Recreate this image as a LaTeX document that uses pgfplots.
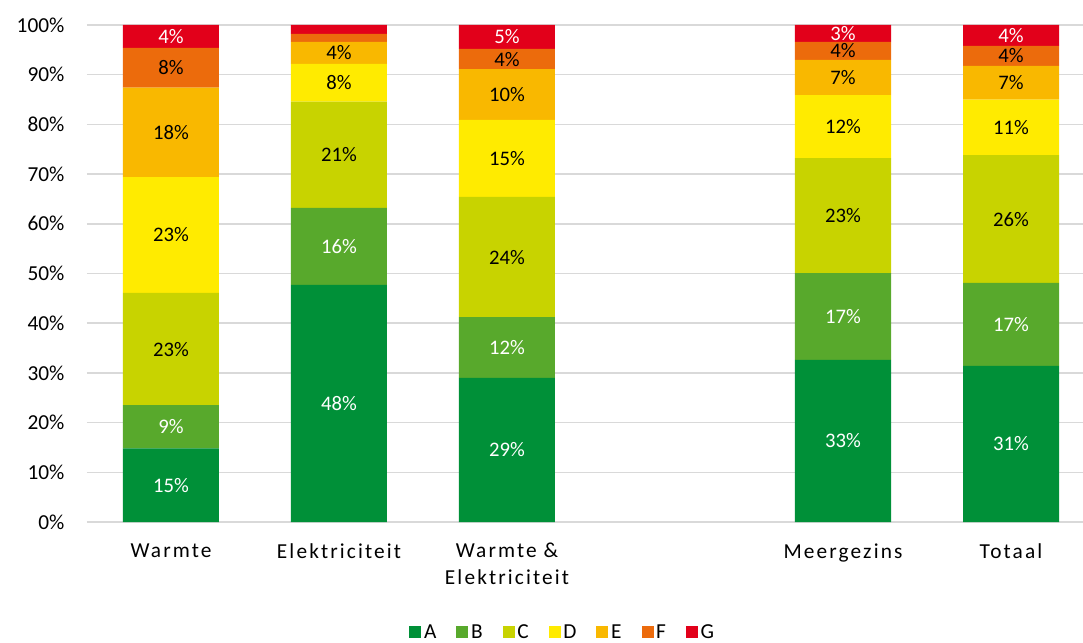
\documentclass[border=0pt]{standalone}
\usepackage{pgfplots}
\usepackage{pgfplotstable}
\pgfplotsset{compat=1.18}
\usepackage{fontspec}
\setmainfont{Carlito}
\newfontfamily\spaced[LetterSpace=10]{Carlito}

\definecolor{cA}{HTML}{009038}
\definecolor{cB}{HTML}{58A92C}
\definecolor{cC}{HTML}{C8D300}
\definecolor{cD}{HTML}{FFEB00}
\definecolor{cE}{HTML}{F9B800}
\definecolor{cF}{HTML}{EC6B0C}
\definecolor{cG}{HTML}{E2001A}
\definecolor{gridgray}{HTML}{D9D9D9}

% shares in percent, and the labels shown in the bars
\pgfplotstableread{
x A    B    C    D    E    F   G   lA   lB   lC   lD   lE   lF  lG
0 14.8 8.7  22.6 23.3 18.0 8.0 4.6 15\% 9\%  23\% 23\% 18\% 8\% 4\%
1 47.7 15.5 21.4 7.6  4.4  1.6 1.8 48\% 16\% 21\% 8\%  4\%  {}  {}
2 29.0 12.2 24.2 15.5 10.2 4.1 4.8 29\% 12\% 24\% 15\% 10\% 4\% 5\%
4 32.6 17.5 23.1 12.7 7.1  3.6 3.4 33\% 17\% 23\% 12\% 7\%  4\% 3\%
5 31.4 16.7 25.7 11.2 6.8  4.0 4.2 31\% 17\% 26\% 11\% 7\%  4\% 4\%
}\data

\begin{document}
\begin{tikzpicture}
\pgfplotsset{
  base/.style={
    scale only axis, width=747pt, height=372.75pt,
    xmin=-0.5, xmax=5.4286, ymin=0, ymax=100,
  },
  lbl/.style={only marks, mark=none, nodes near coords, point meta=explicit symbolic,
    every node near coord/.append style={anchor=center, text=#1, font=\fontsize{15.5}{18}\selectfont}},
}
\begin{axis}[base, name=ax,
  ybar stacked, bar width=72pt,
  axis line style={draw=none}, major tick length=0pt,
  ymajorgrids, grid style={gridgray, line width=1.1pt},
  ytick={0,10,...,100},
  yticklabels={0\%,10\%,20\%,30\%,40\%,50\%,60\%,70\%,80\%,90\%,100\%},
  yticklabel style={anchor=east, xshift=-13.4pt, font=\fontsize{16}{19}\selectfont},
  xtick={0,1,2,4,5},
  xticklabels={Warmte, Elektriciteit, {Warmte \&\\Elektriciteit}, Meergezins, Totaal},
  xticklabel style={anchor=north, align=center, yshift=-12.5pt, font=\fontsize{16}{20}\spaced},
  every axis plot/.append style={draw=none,
    legend image code/.code={\fill[##1,draw=none] (-2pt,-4.5pt) rectangle (7pt,4.5pt);}},
  legend style={at={(axis description cs:0.478,-0.222)}, anchor=center, draw=none,
    font=\fontsize{16}{19}\selectfont, legend columns=-1,
    /tikz/every even column/.append style={column sep=13pt}},
]
\addplot[fill=cA] table[x=x, y=A] {\data};
\addplot[fill=cB] table[x=x, y=B] {\data};
\addplot[fill=cC] table[x=x, y=C] {\data};
\addplot[fill=cD] table[x=x, y=D] {\data};
\addplot[fill=cE] table[x=x, y=E] {\data};
\addplot[fill=cF] table[x=x, y=F] {\data};
\addplot[fill=cG] table[x=x, y=G] {\data};
\legend{A,B,C,D,E,F,G}
\end{axis}
\begin{axis}[base, hide axis, clip=false]
\addplot[lbl=white] table[x=x, y expr=\thisrow{A}/2, meta=lA] {\data};
\addplot[lbl=white] table[x=x, y expr=\thisrow{A}+\thisrow{B}/2, meta=lB] {\data};
\addplot[lbl=black] table[x=x, y expr=\thisrow{A}+\thisrow{B}+\thisrow{C}/2, meta=lC] {\data};
\addplot[lbl=black] table[x=x, y expr=\thisrow{A}+\thisrow{B}+\thisrow{C}+\thisrow{D}/2, meta=lD] {\data};
\addplot[lbl=black] table[x=x, y expr=\thisrow{A}+\thisrow{B}+\thisrow{C}+\thisrow{D}+\thisrow{E}/2, meta=lE] {\data};
\addplot[lbl=black] table[x=x, y expr=\thisrow{A}+\thisrow{B}+\thisrow{C}+\thisrow{D}+\thisrow{E}+\thisrow{F}/2, meta=lF] {\data};
\addplot[lbl=white] table[x=x, y expr=100-\thisrow{G}/2, meta=lG] {\data};
\end{axis}
\pgfresetboundingbox
\path[use as bounding box] ([shift={(-65.25pt,-90.75pt)}]ax.south west)
  rectangle ([shift={(747pt,391.5pt)}]ax.south west);
\end{tikzpicture}
\end{document}
